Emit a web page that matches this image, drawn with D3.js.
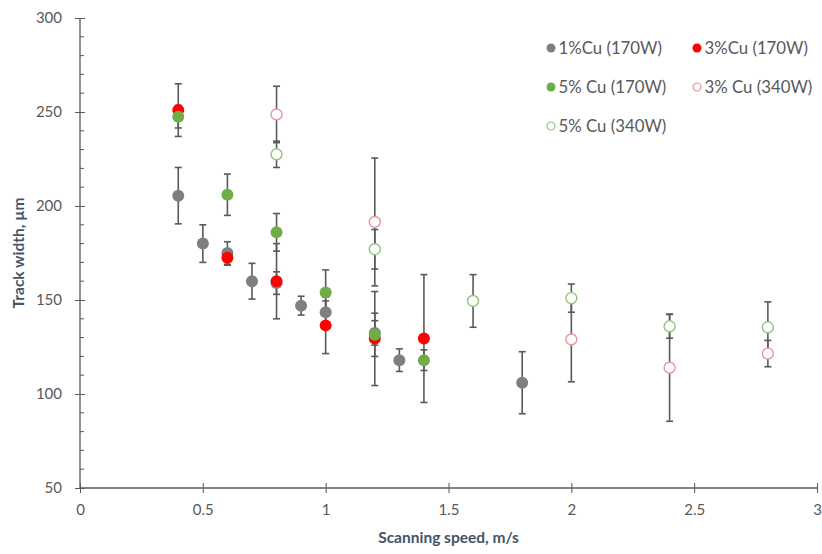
<!DOCTYPE html>
<html>
<head>
<meta charset="utf-8">
<script src="https://cdn.jsdelivr.net/npm/d3@7"></script>
<style>
  body { margin: 0; background: #fff; }
  svg { display: block; font-family: Lato, "Open Sans", sans-serif; }
</style>
</head>
<body>
<svg id="chart"></svg>
<script>
// series data: speed (m/s), track width (µm), error (±µm)
const cu1_170_x = [0.4, 0.5, 0.6, 0.7, 0.8, 0.9, 1.0, 1.2, 1.3, 1.8];
const cu1_170_y = [205.5, 180, 175, 160, 159, 147, 143.5, 132.5, 118, 106];
const cu1_170_e = [15, 10, 6, 9.5, 6, 5, 6, 6.5, 6, 16.5];

const cu3_170_x = [0.4, 0.6, 0.8, 1.0, 1.2, 1.4];
const cu3_170_y = [251, 172.5, 160, 136.5, 129.5, 129.5];
const cu3_170_e = [14, 4, 20, 15, 25, 34];

const cu5_170_x = [0.4, 0.6, 0.8, 1.0, 1.2, 1.4];
const cu5_170_y = [247.5, 206, 186, 154, 131.5, 118];
const cu5_170_e = [6, 11, 10, 12, 11.5, 5.5];

const cu3_340_x = [0.8, 1.2, 2.0, 2.4, 2.8];
const cu3_340_y = [248.7, 191.5, 129, 114, 121.5];
const cu3_340_e = [15, 34, 22.5, 28.5, 7];

const cu5_340_x = [0.8, 1.2, 1.6, 2.0, 2.4, 2.8];
const cu5_340_y = [227.5, 177, 149.5, 151, 136, 135.5];
const cu5_340_e = [7, 10.5, 14, 7.5, 6.3, 13.5];

const X_TICKS = [0, 0.5, 1, 1.5, 2, 2.5, 3];
const Y_TICKS = [50, 100, 150, 200, 250, 300];

const WIDTH = 822;
const HEIGHT = 554;
const PLOT = { left: 80, right: 817, top: 18, bottom: 488 };
const AXIS_COLOR = "#595959";
const TITLE_COLOR = "#44546a";

const series = [
  { name: "1%Cu (170W)", xs: cu1_170_x, ys: cu1_170_y, es: cu1_170_e, fill: "#7f7f7f", stroke: "none" },
  { name: "3%Cu (170W)", xs: cu3_170_x, ys: cu3_170_y, es: cu3_170_e, fill: "#ff0000", stroke: "none" },
  { name: "5% Cu (170W)", xs: cu5_170_x, ys: cu5_170_y, es: cu5_170_e, fill: "#70ad47", stroke: "none" },
  { name: "3% Cu (340W)", xs: cu3_340_x, ys: cu3_340_y, es: cu3_340_e, fill: "#fff", stroke: "#e8949c" },
  { name: "5% Cu (340W)", xs: cu5_340_x, ys: cu5_340_y, es: cu5_340_e, fill: "#fff", stroke: "#92c47a" },
];

const svg = d3.select("#chart").attr("width", WIDTH).attr("height", HEIGHT);

const xScale = d3.scaleLinear().domain([0, 3]).range([PLOT.left, PLOT.right]);
const yScale = d3.scaleLinear().domain([50, 300]).range([PLOT.bottom, PLOT.top]);

// y axis with minor ticks every 10
const yAxis = svg.append("g").attr("transform", "translate(" + PLOT.left + ",0)");
yAxis.call(d3.axisLeft(yScale).tickValues(Y_TICKS).tickSize(5).tickPadding(13));
yAxis.selectAll(".tick line").attr("x2", 5).attr("x1", -5);
yAxis.selectAll(".tick text").attr("font-size", 15).attr("fill", AXIS_COLOR).attr("font-family", "Lato");
yAxis.selectAll(".domain").remove();
yAxis.selectAll(".minor")
  .data(d3.range(60, 300, 10).filter((v) => v % 50 !== 0))
  .enter()
  .append("line")
  .attr("x1", 0)
  .attr("x2", 4)
  .attr("y1", (d) => yScale(d))
  .attr("y2", (d) => yScale(d))
  .attr("stroke", AXIS_COLOR);
yAxis.append("line")
  .attr("y1", yScale(50)).attr("y2", yScale(300))
  .attr("stroke", AXIS_COLOR).attr("stroke-width", 1.3);
yAxis.selectAll("line").attr("stroke", AXIS_COLOR);

// x axis
const xAxis = svg.append("g").attr("transform", "translate(0," + PLOT.bottom + ")");
xAxis.call(d3.axisBottom(xScale).tickValues(X_TICKS).tickFormat(d3.format("")).tickSize(5).tickPadding(11));
xAxis.selectAll(".tick line").attr("y1", -5).attr("y2", 5).attr("stroke", AXIS_COLOR);
xAxis.selectAll(".tick text").attr("font-size", 15).attr("fill", AXIS_COLOR).attr("font-family", "Lato");
xAxis.select(".domain").attr("d", "M" + PLOT.left + ",0H" + PLOT.right).attr("stroke", AXIS_COLOR).attr("stroke-width", 1.3);

// axis titles
svg.append("text")
  .attr("transform", "translate(24," + (PLOT.top + PLOT.bottom) / 2 + ") rotate(-90)")
  .attr("text-anchor", "middle")
  .attr("font-size", 15.5)
  .attr("font-weight", "bold")
  .attr("fill", TITLE_COLOR)
  .text("Track width, µm");
svg.append("text")
  .attr("x", (PLOT.left + PLOT.right) / 2)
  .attr("y", 543)
  .attr("text-anchor", "middle")
  .attr("font-size", 15.5)
  .attr("font-weight", "bold")
  .attr("fill", TITLE_COLOR)
  .text("Scanning speed, m/s");

// error bars first, markers on top
const errG = svg.append("g");
const markG = svg.append("g");
series.forEach((s) => {
  const pts = s.xs.map((x, i) => ({ x: x, y: s.ys[i], e: s.es[i] }));
  const eb = errG.selectAll(null).data(pts).enter().append("g").attr("stroke", "#595959").attr("stroke-width", 1.6);
  eb.append("line")
    .attr("x1", (d) => xScale(d.x)).attr("x2", (d) => xScale(d.x))
    .attr("y1", (d) => yScale(d.y - d.e)).attr("y2", (d) => yScale(d.y + d.e));
  eb.append("line")
    .attr("x1", (d) => xScale(d.x) - 3.5).attr("x2", (d) => xScale(d.x) + 3.5)
    .attr("y1", (d) => yScale(d.y + d.e)).attr("y2", (d) => yScale(d.y + d.e));
  eb.append("line")
    .attr("x1", (d) => xScale(d.x) - 3.5).attr("x2", (d) => xScale(d.x) + 3.5)
    .attr("y1", (d) => yScale(d.y - d.e)).attr("y2", (d) => yScale(d.y - d.e));
  markG.selectAll(null).data(pts).enter().append("circle")
    .attr("cx", (d) => xScale(d.x))
    .attr("cy", (d) => yScale(d.y))
    .attr("r", s.stroke === "none" ? 6 : 5.5)
    .attr("fill", s.fill)
    .attr("stroke", s.stroke)
    .attr("stroke-width", 1.4);
});

// legend
const legendPos = [[551, 48], [697, 48], [551, 87], [697, 87], [551, 126]];
const legend = svg.append("g");
series.forEach((s, i) => {
  const g = legend.append("g").attr("transform", "translate(" + legendPos[i][0] + "," + legendPos[i][1] + ")");
  g.append("circle")
    .attr("r", s.stroke === "none" ? 4.5 : 4)
    .attr("fill", s.fill)
    .attr("stroke", s.stroke)
    .attr("stroke-width", 1.2);
  g.append("text")
    .attr("x", 7.5)
    .attr("y", 6)
    .attr("font-size", 16.8)
    .attr("fill", AXIS_COLOR)
    .text(s.name);
});
</script>
</body>
</html>
